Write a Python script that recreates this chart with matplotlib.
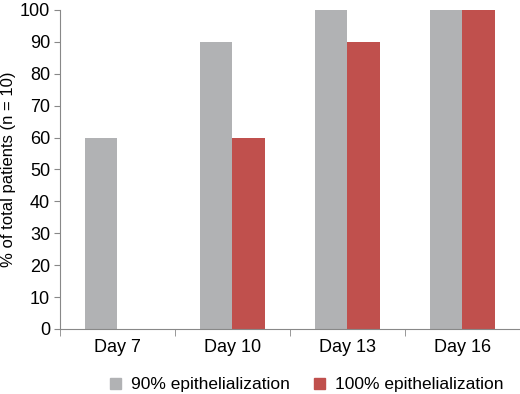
import numpy as np
import matplotlib.pyplot as plt
from matplotlib.patches import Patch

plt.rcParams['font.family'] = ['Liberation Sans', 'DejaVu Sans']

days = ['Day 7', 'Day 10', 'Day 13', 'Day 16']
epi90 = [60, 90, 100, 100]
epi100 = [0, 60, 90, 100]
labels = ['90% epithelialization', '100% epithelialization']
colors = ['#b1b2b4', '#c0504d']

fig = plt.figure(figsize=(5.2, 3.94), dpi=100)
ax = fig.add_axes([0.115, 0.165, 0.885, 0.81])

x = np.arange(len(days))
w = 0.28
ax.bar(x - w / 2, epi90, w, color=colors[0])
ax.bar(x + w / 2, epi100, w, color=colors[1])

ax.set_xlim(-0.5, len(days) - 0.5)
ax.set_ylim(0, 100)
ax.set_yticks(range(0, 101, 10))
ax.set_xticks(x)
ax.set_xticklabels(days, fontsize=13)
ax.set_xticks(np.arange(-0.5, len(days), 1), minor=True)
ax.tick_params(axis='x', which='major', length=0, pad=7)
ax.tick_params(axis='x', which='minor', length=5, color='#888888')
ax.tick_params(axis='y', labelsize=13, length=4, color='#888888', pad=3)
ax.set_ylabel('% of total patients (n = 10)', fontsize=12, labelpad=3)

for s in ['top', 'right']:
    ax.spines[s].set_visible(False)
for s in ['left', 'bottom']:
    ax.spines[s].set_color('#888888')

handles = [Patch(color=c) for c in colors]
fig.legend(handles, labels, loc='center', bbox_to_anchor=(0.59, 0.023), ncol=2,
           frameon=False, fontsize=12.5, handlelength=0.6, handleheight=0.6,
           handletextpad=0.6, columnspacing=1.4)

fig.savefig('out.png', dpi=100)
